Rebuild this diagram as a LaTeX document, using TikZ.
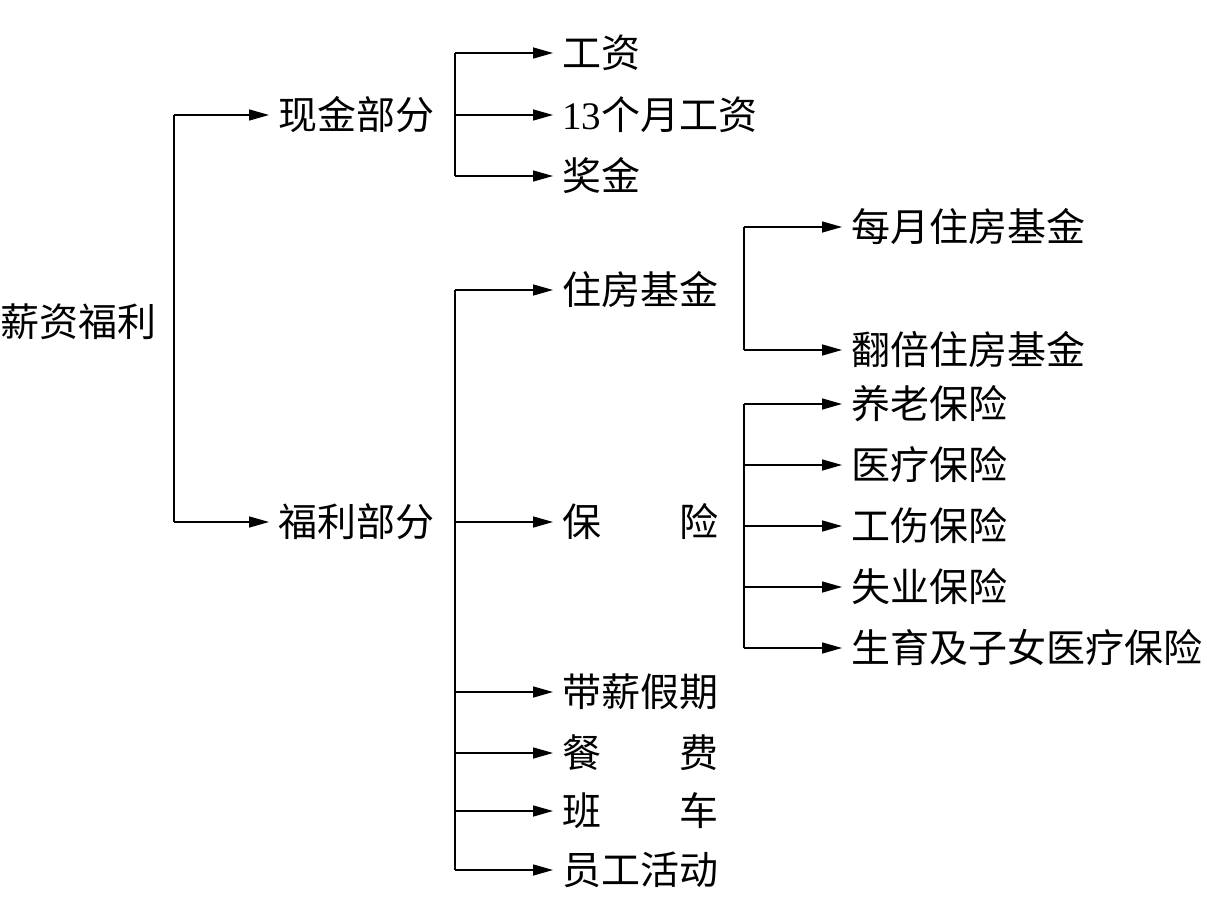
\documentclass[tikz,border=0pt]{standalone}
\usepackage{fontspec}
\setmainfont{Liberation Serif}
\newfontfamily\cjk{Noto Sans CJK SC}
\usetikzlibrary{arrows.meta}
\begin{document}
\begin{tikzpicture}[x=1pt,y=-1pt,
  lbl/.style={anchor=west,inner sep=0pt,font=\fontsize{39}{39}\selectfont\cjk,text height=29.6pt,text depth=0pt},
  conn/.style={line width=1.5pt},
  arr/.style={line width=1.5pt,-{Triangle[length=20pt,width=11pt]},shorten >=9pt}]
\useasboundingbox (0,0) rectangle (1207,923);
% nodes
\node[lbl] (root) at (0,322) {薪资福利};
\node[lbl] (xj) at (278,115) {现金部分};
\node[lbl] (fl) at (278,522) {福利部分};
\node[lbl] (gz) at (562,53) {工资};
\node[lbl] (m13) at (562,115) {{\rmfamily 13}个月工资};
\node[lbl] (jj) at (562,176) {奖金};
\node[lbl] (zf) at (562,290) {住房基金};
\node[lbl] (bx) at (562,522) {保\hspace{2em}险};
\node[lbl] (dx) at (562,692) {带薪假期};
\node[lbl] (cf) at (562,753) {餐\hspace{2em}费};
\node[lbl] (bc) at (562,811) {班\hspace{2em}车};
\node[lbl] (yg) at (562,870) {员工活动};
\node[lbl] (my) at (851,227) {每月住房基金};
\node[lbl] (fb) at (851,350) {翻倍住房基金};
\node[lbl] (yl) at (851,404) {养老保险};
\node[lbl] (ylb) at (851,465) {医疗保险};
\node[lbl] (gs) at (851,526) {工伤保险};
\node[lbl] (sy) at (851,587) {失业保险};
\node[lbl] (sh) at (851,648) {生育及子女医疗保险};
% junction columns
\coordinate (j0) at (174,0);
\coordinate (j1) at (455,0);
\coordinate (j2) at (744,0);
% level 1
\draw[conn] (j0 |- xj) -- (j0 |- fl);
\draw[arr] (j0 |- xj) -- (xj.west);
\draw[arr] (j0 |- fl) -- (fl.west);
% cash part
\draw[conn] (j1 |- gz) -- (j1 |- jj);
\foreach \n in {gz,m13,jj} \draw[arr] (j1 |- \n) -- (\n.west);
% welfare part
\draw[conn] (j1 |- zf) -- (j1 |- yg);
\foreach \n in {zf,bx,dx,cf,bc,yg} \draw[arr] (j1 |- \n) -- (\n.west);
% housing fund
\draw[conn] (j2 |- my) -- (j2 |- fb);
\foreach \n in {my,fb} \draw[arr] (j2 |- \n) -- (\n.west);
% insurance
\draw[conn] (j2 |- yl) -- (j2 |- sh);
\foreach \n in {yl,ylb,gs,sy,sh} \draw[arr] (j2 |- \n) -- (\n.west);
\end{tikzpicture}
\end{document}
